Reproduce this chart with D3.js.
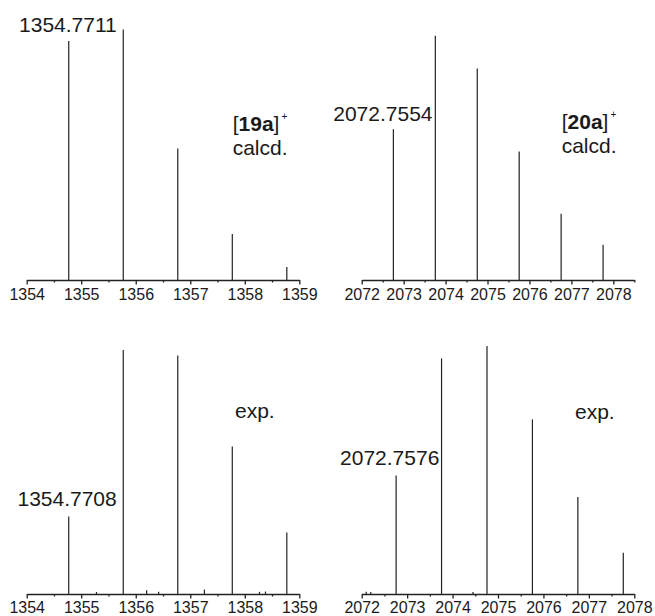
<html>
<head>
<meta http-equiv="content-type" content="text/html; charset=UTF8">
<title>Isotope patterns</title>
<script src="https://cdnjs.cloudflare.com/ajax/libs/d3/7.8.5/d3.min.js"></script>
</head>
<style type="text/css">
body { margin: 0; padding: 0; background: #fff; overflow: hidden; }
svg text { font-family: "Liberation Sans", Arial, sans-serif; fill: #1a1a1a; }
.axis path, .axis line { stroke: #222; stroke-width: 1.3; }
.peak { stroke: #222; stroke-width: 1.2; }
</style>
<body>
<div id="chart"></div>
<script type="text/javascript">

// [19a]+ calcd.
var calc19Mz = [1354.7711, 1355.7711, 1356.7711, 1357.7711, 1358.7711];
var calc19Int = [95.4, 100, 52.5, 18.4, 5.2];

// [20a]+ calcd.
var calc20Mz = [2072.7554, 2073.7554, 2074.7554, 2075.7554, 2076.7554, 2077.7554];
var calc20Int = [61.7, 100, 86.6, 52.6, 27.1, 14.4];

// [19a]+ exp.
var exp19Mz = [1354.7708, 1355.7708, 1356.7708, 1357.7708, 1358.7708,
               1355.28, 1356.2, 1356.42, 1357.26, 1358.27, 1358.38];
var exp19Int = [31.8, 100, 97.7, 60.5, 25.2,
                0.8, 1.5, 0.9, 1.8, 0.9, 1.0];

// [20a]+ exp.
var exp20Mz = [2072.7576, 2073.7576, 2074.7576, 2075.7576, 2076.7576, 2077.7576,
               2072.1, 2072.2, 2074.45];
var exp20Int = [47.8, 95.0, 100, 70.4, 39.1, 16.6,
                0.9, 0.8, 0.8];

var ticks1354 = [1354, 1355, 1356, 1357, 1358, 1359];
var minor1354 = [1354.5, 1355.5, 1356.5, 1357.5, 1358.5];
var ticks2072 = [2072, 2073, 2074, 2075, 2076, 2077, 2078];
var minor2072 = [2072.5, 2073.5, 2074.5, 2075.5, 2076.5, 2077.5, 2078.5];

var svg = d3.select("#chart").append("svg")
    .attr("width", 655)
    .attr("height", 616);

var panels = [
    { mz: calc19Mz, val: calc19Int, domain: [1354, 1359], xr: [26.7, 299.3],
      base: 280, top: 29.5, ticks: ticks1354, minor: minor1354, pad: 4.6,
      label: "1354.7711", lx: 1, ly: 31.7, ldx: -6.5 },
    { mz: calc20Mz, val: calc20Int, domain: [2072, 2078.5], xr: [361.7, 634.3],
      base: 280, top: 35.7, ticks: ticks2072, minor: minor2072, pad: 4.6,
      label: "2072.7554", lx: 1, ly: 120.7, ldx: -2.8 },
    { mz: exp19Mz, val: exp19Int, domain: [1354, 1359], xr: [26.7, 299.3],
      base: 594, top: 350, ticks: ticks1354, minor: minor1354, pad: 3.2,
      label: "1354.7708", lx: 1, ly: 506, ldx: -6.5 },
    { mz: exp20Mz, val: exp20Int, domain: [2072, 2078], xr: [361.7, 634.3],
      base: 594, top: 346, ticks: ticks2072, minor: minor2072.slice(0, 6), pad: 3.2,
      label: "2072.7576", lx: 1, ly: 465, ldx: -2.2 }
];

panels.forEach(function(p){
    var x = d3.scaleLinear().domain(p.domain).range(p.xr);
    var y = d3.scaleLinear().domain([0, 100]).range([p.base, p.top]);
    var g = svg.append("g");

    /*
    * stick spectrum
    */
    g.selectAll("line.peak")
        .data(p.mz.map(function(m, i){ return { mz: m, v: p.val[i] }; }))
        .enter().append("line")
        .attr("class", "peak")
        .attr("x1", function(d){ return x(d.mz); })
        .attr("x2", function(d){ return x(d.mz); })
        .attr("y1", y(0))
        .attr("y2", function(d){ return y(d.v); });

    /*
    * axis with minor ticks
    */
    g.append("g")
        .attr("class", "axis")
        .attr("transform", "translate(0," + p.base + ")")
        .call(d3.axisBottom(x).tickValues(p.minor).tickSize(2.5).tickSizeOuter(0).tickFormat(""));

    var ax = g.append("g")
        .attr("class", "axis")
        .attr("transform", "translate(0," + p.base + ")")
        .call(d3.axisBottom(x).tickValues(p.ticks).tickSize(4.5).tickSizeOuter(0).tickPadding(p.pad).tickFormat(d3.format("d")));
    ax.select(".domain").remove();
    ax.selectAll("text")
        .style("font-size", "16px")
        .style("font-family", "\"Liberation Sans\", Arial, sans-serif")
        .attr("fill", "#1a1a1a");

    // monoisotopic peak label, right-aligned before the second peak
    g.append("text")
        .attr("x", x(p.mz[p.lx]) + p.ldx)
        .attr("y", p.ly)
        .attr("text-anchor", "end")
        .style("font-size", "21px")
        .text(p.label);
});

function ionLabel(x0, y0, name) {
    var t = svg.append("text")
        .attr("x", x0)
        .attr("y", y0)
        .style("font-size", "21px");
    t.append("tspan").text("[");
    t.append("tspan").style("font-weight", "bold").text(name);
    t.append("tspan").text("]");
    t.append("tspan").attr("dx", 2).attr("dy", -11).style("font-size", "10px").text("+");
}

ionLabel(232.7, 130.7, "19a");
svg.append("text").attr("x", 232.7).attr("y", 155).style("font-size", "21px").text("calcd.");

ionLabel(561.7, 129.3, "20a");
svg.append("text").attr("x", 561.7).attr("y", 153.3).style("font-size", "21px").text("calcd.");

svg.append("text").attr("x", 235).attr("y", 418).style("font-size", "21px").text("exp.");
svg.append("text").attr("x", 575).attr("y", 418.5).style("font-size", "21px").text("exp.");

</script>
</body>
</html>
